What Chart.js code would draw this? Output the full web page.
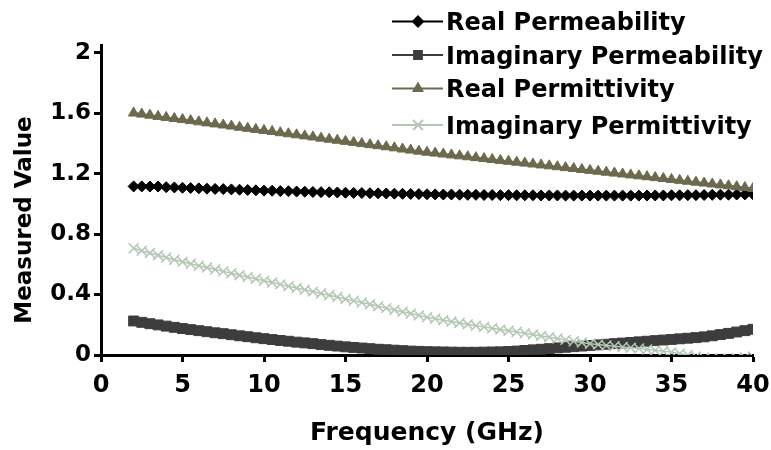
<!DOCTYPE html>
<html>
<head>
<meta charset="utf-8">
<script src="https://cdn.jsdelivr.net/npm/chart.js@4.4.1/dist/chart.umd.min.js"></script>
<style>
  html, body { margin: 0; padding: 0; background: #fff; }
  canvas { display: block; }
</style>
</head>
<body>
<canvas id="chart" width="771" height="450"></canvas>
<script>
// frequency sweep, 0.5 GHz steps
const freqGHz = [
  2, 2.5, 3, 3.5, 4, 4.5, 5, 5.5, 6, 6.5,
  7, 7.5, 8, 8.5, 9, 9.5, 10, 10.5, 11, 11.5,
  12, 12.5, 13, 13.5, 14, 14.5, 15, 15.5, 16, 16.5,
  17, 17.5, 18, 18.5, 19, 19.5, 20, 20.5, 21, 21.5,
  22, 22.5, 23, 23.5, 24, 24.5, 25, 25.5, 26, 26.5,
  27, 27.5, 28, 28.5, 29, 29.5, 30, 30.5, 31, 31.5,
  32, 32.5, 33, 33.5, 34, 34.5, 35, 35.5, 36, 36.5,
  37, 37.5, 38, 38.5, 39, 39.5, 40
];

const realPermeability = [
  1.115, 1.115, 1.114, 1.114, 1.110, 1.108, 1.106, 1.104, 1.102, 1.100,
  1.098, 1.097, 1.095, 1.093, 1.091, 1.089, 1.087, 1.086, 1.084, 1.083,
  1.081, 1.080, 1.078, 1.077, 1.076, 1.075, 1.073, 1.072, 1.071, 1.070,
  1.069, 1.068, 1.067, 1.066, 1.065, 1.064, 1.063, 1.062, 1.061, 1.061,
  1.060, 1.059, 1.059, 1.058, 1.058, 1.057, 1.057, 1.056, 1.056, 1.056,
  1.055, 1.055, 1.055, 1.054, 1.054, 1.054, 1.054, 1.054, 1.054, 1.054,
  1.054, 1.054, 1.054, 1.055, 1.055, 1.055, 1.056, 1.056, 1.057, 1.057,
  1.058, 1.059, 1.060, 1.060, 1.061, 1.062, 1.063
];

const imagPermeability = [
  0.225, 0.216, 0.207, 0.199, 0.191, 0.183, 0.175, 0.168, 0.161, 0.154,
  0.147, 0.141, 0.134, 0.127, 0.121, 0.114, 0.108, 0.102, 0.096, 0.091,
  0.085, 0.080, 0.075, 0.069, 0.064, 0.059, 0.054, 0.050, 0.046, 0.042,
  0.038, 0.035, 0.032, 0.029, 0.026, 0.024, 0.022, 0.021, 0.020, 0.019,
  0.018, 0.018, 0.018, 0.019, 0.020, 0.021, 0.023, 0.026, 0.030, 0.034,
  0.038, 0.042, 0.047, 0.051, 0.055, 0.059, 0.063, 0.067, 0.071, 0.075,
  0.079, 0.083, 0.087, 0.091, 0.095, 0.099, 0.103, 0.107, 0.111, 0.115,
  0.120, 0.127, 0.135, 0.143, 0.152, 0.161, 0.170
];

const realPermittivity = [
  1.600, 1.593, 1.586, 1.578, 1.571, 1.564, 1.557, 1.550, 1.542, 1.535,
  1.528, 1.521, 1.514, 1.506, 1.499, 1.492, 1.485, 1.478, 1.470, 1.463,
  1.456, 1.449, 1.442, 1.434, 1.427, 1.420, 1.413, 1.406, 1.398, 1.391,
  1.384, 1.377, 1.370, 1.362, 1.355, 1.348, 1.341, 1.335, 1.329, 1.323,
  1.317, 1.311, 1.305, 1.299, 1.293, 1.287, 1.281, 1.275, 1.269, 1.263,
  1.257, 1.251, 1.245, 1.239, 1.233, 1.227, 1.221, 1.215, 1.209, 1.203,
  1.197, 1.191, 1.185, 1.179, 1.173, 1.167, 1.161, 1.155, 1.149, 1.143,
  1.137, 1.131, 1.125, 1.119, 1.113, 1.107, 1.101
];

const imagPermittivity = [
  0.706, 0.690, 0.675, 0.660, 0.645, 0.630, 0.616, 0.603, 0.590, 0.578,
  0.565, 0.553, 0.541, 0.528, 0.516, 0.504, 0.491, 0.479, 0.467, 0.455,
  0.443, 0.431, 0.419, 0.407, 0.395, 0.383, 0.371, 0.359, 0.347, 0.335,
  0.322, 0.310, 0.298, 0.286, 0.274, 0.262, 0.250, 0.240, 0.230, 0.221,
  0.212, 0.203, 0.194, 0.186, 0.177, 0.169, 0.161, 0.152, 0.144, 0.135,
  0.126, 0.118, 0.109, 0.100, 0.091, 0.083, 0.075, 0.069, 0.063, 0.058,
  0.053, 0.048, 0.043, 0.037, 0.031, 0.025, 0.019, 0.010, 0.000, -0.010,
  -0.018, -0.022, -0.024, -0.024, -0.020, -0.015, -0.010
];

const seriesNames = ['Real Permeability', 'Imaginary Permeability', 'Real Permittivity', 'Imaginary Permittivity'];
const xTickValues = [0, 5, 10, 15, 20, 25, 30, 35, 40];
const yTickValues = [0, 0.4, 0.8, 1.2, 1.6, 2];

const pts = (vals) => vals.map((v, i) => ({ x: freqGHz[i], y: v }));

const BOLD = "'DejaVu Sans', sans-serif";

// legend sits over the top right of the plot, drawn by hand
const legendBox = {
  id: 'legendBox',
  afterDraw(chart) {
    const ctx = chart.ctx;
    const rows = [21.5, 55, 88.5, 125];
    const legendMarks = [
      { pointStyle: 'rectRot', radius: 5, borderWidth: 1 },
      { pointStyle: 'rect', radius: 5.5, borderWidth: 1 },
      { pointStyle: 'triangle', radius: 5, borderWidth: 1 },
      { pointStyle: 'crossRot', radius: 7, borderWidth: 1.5 }
    ];
    ctx.save();
    chart.data.datasets.forEach((ds, i) => {
      const y = rows[i];
      ctx.strokeStyle = ds.borderColor;
      ctx.fillStyle = ds.backgroundColor;
      ctx.lineWidth = 2;
      ctx.beginPath();
      ctx.moveTo(392, y);
      ctx.lineTo(443, y);
      ctx.stroke();
      Chart.helpers.drawPoint(ctx, { ...legendMarks[i], rotation: 0 }, 418, y);
      ctx.fillStyle = '#000';
      ctx.font = 'bold 24px ' + BOLD;
      ctx.textAlign = 'left';
      ctx.textBaseline = 'alphabetic';
      ctx.fillText(ds.label, 446, y + 8.8);
    });

    // y axis title
    ctx.translate(25, 220);
    ctx.rotate(-Math.PI / 2);
    ctx.font = 'bold 23px ' + BOLD;
    ctx.textAlign = 'center';
    ctx.textBaseline = 'middle';
    ctx.fillStyle = '#000';
    ctx.fillText('Measured Value', 0, 0);
    ctx.restore();
  }
};

const line = (label, vals, color, style, radius, order, extra) => Object.assign({
  label: label,
  data: pts(vals),
  borderColor: color,
  backgroundColor: color,
  borderWidth: 2,
  pointStyle: style,
  pointRadius: radius,
  pointBorderWidth: 1,
  pointBackgroundColor: color,
  pointBorderColor: color,
  tension: 0,
  order: order
}, extra || {});

new Chart(document.getElementById('chart'), {
  type: 'line',
  data: {
    datasets: [
      line(seriesNames[0], realPermeability, '#000000', 'rectRot', 5.5, 3),
      line(seriesNames[1], imagPermeability, '#3d3d3d', 'rect', 7, 4),
      line(seriesNames[2], realPermittivity, '#6b694e', 'triangle', 6, 1),
      line(seriesNames[3], imagPermittivity, '#b3c8b3', 'crossRot', 7, 2, { pointBorderWidth: 1.5, borderWidth: 1.5 })
    ]
  },
  options: {
    responsive: false,
    animation: false,
    devicePixelRatio: 1,
    layout: { padding: { top: 45, right: 18, left: 0, bottom: 0 } },
    plugins: {
      legend: { display: false },
      tooltip: { enabled: false }
    },
    scales: {
      x: {
        type: 'linear',
        min: 0,
        max: 40,
        afterFit: (s) => { s.height = 95; s.paddingLeft = 0; s.paddingRight = 0; },
        afterBuildTicks: (s) => { s.ticks = xTickValues.map(v => ({ value: v })); },
        border: { display: true, color: '#000', width: 3 },
        grid: { drawOnChartArea: false, drawTicks: true, tickLength: 7, tickWidth: 3, tickColor: '#000' },
        ticks: {
          color: '#000',
          padding: 9,
          maxRotation: 0,
          font: { family: BOLD, size: 24, weight: 'bold' }
        },
        title: {
          display: true,
          text: 'Frequency (GHz)',
          color: '#000',
          padding: { top: 0, bottom: 2 },
          font: { family: BOLD, size: 25, weight: 'bold' }
        }
      },
      y: {
        min: 0,
        max: 2.05,
        afterFit: (s) => { s.width = 101; s.paddingTop = 0; s.paddingBottom = 0; },
        afterBuildTicks: (s) => { s.ticks = yTickValues.map(v => ({ value: v })); },
        border: { display: true, color: '#000', width: 3 },
        grid: { drawOnChartArea: false, drawTicks: true, tickLength: 7, tickWidth: 3, tickColor: '#000' },
        ticks: {
          color: '#000',
          padding: 3,
          font: { family: BOLD, size: 23, weight: 'bold' },
          callback: (v) => String(+v.toFixed(1))
        }
      }
    }
  },
  plugins: [legendBox]
});
</script>
</body>
</html>
